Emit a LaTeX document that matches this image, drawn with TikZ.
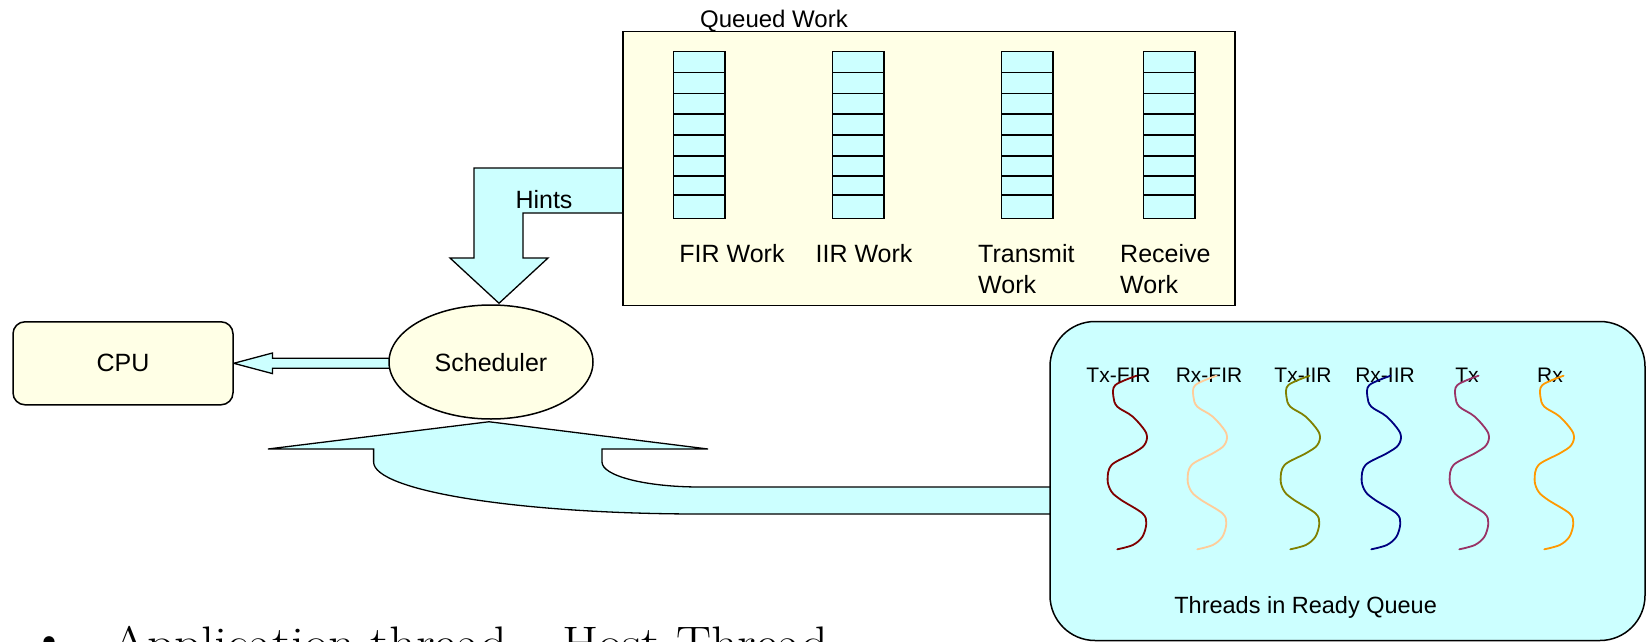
\documentclass[tikz,border=0pt]{standalone}
\usepackage{graphicx}
\usepackage{fontspec}
\newfontfamily\arialf{Liberation Sans}
\usetikzlibrary{shapes.geometric,calc,backgrounds}
\definecolor{cyanfill}{HTML}{CCFFFF}
\definecolor{yelfill}{HTML}{FFFFE6}
\definecolor{sqA}{HTML}{800000}
\definecolor{sqB}{HTML}{FFCC99}
\definecolor{sqC}{HTML}{808000}
\definecolor{sqD}{HTML}{000080}
\definecolor{sqE}{HTML}{993366}
\definecolor{sqF}{HTML}{FF9900}
\begin{document}
\begin{tikzpicture}[x=1pt,y=-1pt,
  outl/.style={draw=black,line width=1.5pt},
  lbl/.style={font={\arialf\fontsize{25}{30}\selectfont},inner sep=0pt},
  tlbl/.style={font={\arialf\fontsize{21}{25}\selectfont},inner sep=0pt,anchor=base},
  cellbox/.style={draw=black,line width=1.3pt,fill=cyanfill},
  squig/.style={line width=1.8pt,line cap=round,line join=round}]
\useasboundingbox (0,0) rectangle (1646,642);

% main nodes
\node[outl,fill=yelfill,minimum width=612pt,minimum height=274pt,inner sep=0pt] (queued) at (929,168.5) {};
\node[lbl,font={\arialf\fontsize{24}{28}\selectfont},anchor=base] (qlabel) at (774,28) {Queued Work};
\node[outl,fill=yelfill,rounded corners=12pt,minimum width=220pt,minimum height=83pt,inner sep=0pt] (cpu) at (123,363.3) {};
\node[lbl,anchor=base] (cpulbl) at (123,371.5) {CPU};
\node[outl,fill=yelfill,ellipse,minimum width=204pt,minimum height=114pt,inner sep=0pt] (sched) at (491,362) {};
\node[lbl,anchor=base] (schedlbl) at (491,371.5) {Scheduler};
\node[outl,fill=cyanfill,rounded corners=45pt,minimum width=595pt,minimum height=319pt,inner sep=0pt] (threads) at (1347.5,481) {};

% queues
\foreach \qx in {673.5,832.5,1001.5,1143.5}{
  \foreach \ya/\yb in {51.7/72.7,72.7/93.3,93.3/114,114/135,135/156,156/176,176/195,195/218.3}{
    \draw[cellbox] (\qx,\ya) rectangle (\qx+51.5,\yb);
  }
}
\node[lbl,anchor=base] (firw) at (732,262.7) {FIR Work};
\node[lbl,anchor=base] (iirw) at (864,262.7) {IIR Work};
\node[lbl,anchor=base west] (txw) at (978,262.7) {Transmit};
\node[lbl,anchor=base west] (txw2) at (978,293.3) {Work};
\node[lbl,anchor=base west] (rxw) at (1120,262.7) {Receive};
\node[lbl,anchor=base west] (rxw2) at (1120,293.3) {Work};

% block arrows
\coordinate (hy1) at (0,168);
\coordinate (hy2) at (0,213);
\coordinate (y487) at (0,487);
\coordinate (y514) at (0,514);
\coordinate (ca) at (cpu.east);
\coordinate (cb) at ($(cpu.east -| sched.west)+(4,0)$);
\begin{scope}[on background layer]
  \draw[outl,line width=1.3pt,fill=cyanfill,line join=miter]
    (queued.west |- hy1) -- (474,168) -- (474,258) -- (450,258)
    -- ($(sched.north)+(8,-1)$) -- (548,258) -- (523,258) -- (523,213)
    -- (queued.west |- hy2);
  \draw[outl,line width=1.3pt,fill=cyanfill]
    ($(cb)+(0,-5)$) -- ($(ca)+(38.7,-5)$) -- ($(ca)+(38.7,-10.3)$) -- (ca)
    -- ($(ca)+(38.7,10.3)$) -- ($(ca)+(38.7,5)$) -- ($(cb)+(0,5)$);
  \draw[outl,line width=1.3pt,fill=cyanfill]
    ($(sched.south)+(-2,2)$) -- (708,449) -- (602,449) -- (602,462)
    .. controls (602,476) and (646,487) .. (700,487)
    -- ($(threads.west |- y487)+(2,0)$) -- ($(threads.west |- y514)+(2,0)$)
    -- (700,514) .. controls (520,514) and (373.6,491) .. (373.6,462)
    -- (373.6,449) -- (268,449) -- cycle;
\end{scope}
\node[lbl,anchor=base] (hints) at (544,208) {Hints};

% threads
\node[tlbl] (l1) at (1118.5,382.7) {Tx-FIR};
\node[tlbl] (l2) at (1209,382.7) {Rx-FIR};
\node[tlbl] (l3) at (1303,382.7) {Tx-IIR};
\node[tlbl] (l4) at (1385,382.7) {Rx-IIR};
\node[tlbl] (l5) at (1467,382.7) {Tx};
\node[tlbl] (l6) at (1550,382.7) {Rx};
\foreach \xo/\col in {1127/sqA,1207/sqB,1300/sqC,1381/sqD,1469/sqE,1554/sqF}{
  \begin{scope}[shift={(\xo,0)}]
    \draw[squig,\col] plot[smooth,tension=0.55] coordinates {
      (9.6,375.7) (-11.6,385) (-13.6,396.7) (-9.7,406.7) (5.8,416.7)
      (19.3,433.3) (17.4,445) (5.8,453.3) (-15.5,465) (-19.4,480)
      (-15.5,491.7) (-5.8,500) (15.4,513.3) (19.3,523.3) (15.4,536.7)
      (5.8,545) (-9.7,549.3)};
  \end{scope}
}
\node[lbl,font={\arialf\fontsize{23.5}{28}\selectfont},anchor=base] (trq) at (1305.6,613.3) {Threads in Ready Queue};

% clipped bullet text
\node[inner sep=0pt,anchor=base,font=\fontsize{50}{60}\selectfont] (bul) at (49,655) {\textbullet};
\node[inner sep=0pt,anchor=base west,font=\fontsize{47}{56}\selectfont] (app) at (111,659) {\scalebox{1.115}[1]{Application thread – Host Thread}};
\end{tikzpicture}
\end{document}
